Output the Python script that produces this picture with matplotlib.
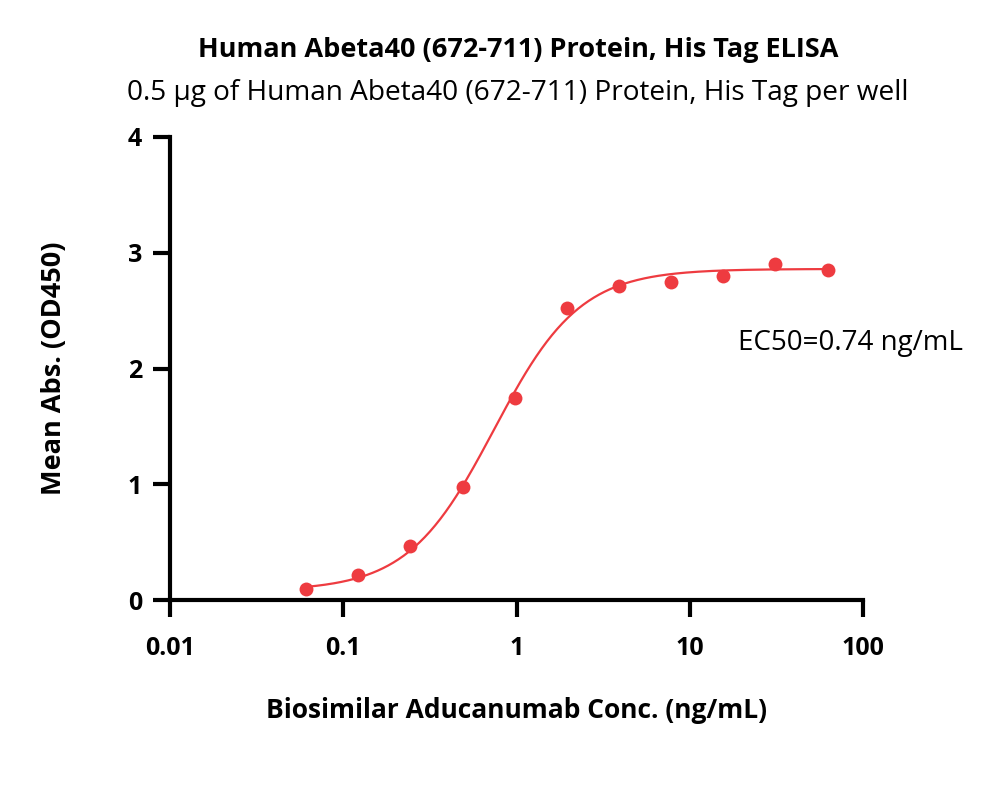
import numpy as np
import matplotlib as mpl
mpl.use('Agg')
import matplotlib.pyplot as plt
from matplotlib.ticker import FixedLocator, NullLocator

conc = [0.061, 0.122, 0.244, 0.488, 0.977, 1.95, 3.91, 7.81, 15.6, 31.25, 62.5]
od450 = [0.095, 0.22, 0.47, 0.98, 1.75, 2.52, 2.71, 2.75, 2.80, 2.90, 2.85]

# 4PL fit parameters
bottom, top, ec50, hill = 0.08, 2.86, 0.74, 1.75

x_ticks = [0.01, 0.1, 1, 10, 100]
x_labels = ['0.01', '0.1', '1', '10', '100']
y_ticks = [0, 1, 2, 3, 4]

red = '#EE3B40'
plt.rcParams['font.family'] = ['Open Sans', 'DejaVu Sans']

fig = plt.figure(figsize=(10, 7.96), dpi=100)
ax = fig.add_axes([0.17, 0.246, 0.693, 0.582])

xf = np.logspace(np.log10(conc[0]), np.log10(conc[-1]), 300)
yf = bottom + (top - bottom) / (1 + (ec50 / xf) ** hill)
ax.plot(xf, yf, c=red, lw=1.6, zorder=2)
ax.plot(conc, od450, 'o', c=red, ms=10, mec='none', zorder=3, clip_on=False)

ax.set_xscale('log')
ax.set_xlim(0.01, 100)
ax.set_ylim(0, 4)
ax.xaxis.set_major_locator(FixedLocator(x_ticks))
ax.xaxis.set_minor_locator(NullLocator())
ax.set_xticklabels(x_labels)
ax.set_yticks(y_ticks)
for s in ['top', 'right']:
    ax.spines[s].set_visible(False)
for s in ['left', 'bottom']:
    ax.spines[s].set_linewidth(3)
ax.tick_params(width=3, length=12, labelsize=18, pad=8)
ax.tick_params(axis='x', pad=14)
for lab in ax.get_xticklabels() + ax.get_yticklabels():
    lab.set_fontweight('bold')

ax.set_xlabel('Biosimilar Aducanumab Conc. (ng/mL)', fontsize=19, fontweight='bold', labelpad=26)
ax.set_ylabel('Mean Abs. (OD450)', fontsize=19.5, fontweight='bold', labelpad=44)
ax.text(0.82, 0.555, 'EC50=0.74 ng/mL', transform=ax.transAxes, fontsize=20, va='center')

fig.text(0.518, 0.937, 'Human Abeta40 (672-711) Protein, His Tag ELISA', ha='center', va='center', fontsize=19.5, fontweight='bold')
fig.text(0.518, 0.883, '0.5 \u03bcg of Human Abeta40 (672-711) Protein, His Tag per well', ha='center', va='center', fontsize=20.2)

fig.savefig('out.png', dpi=100)
